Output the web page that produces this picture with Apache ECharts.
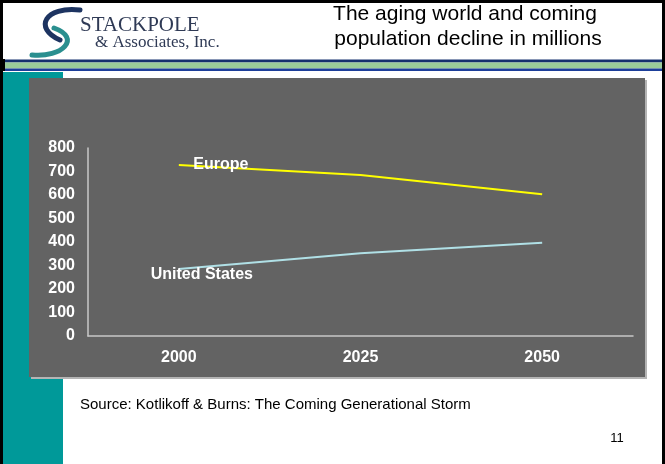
<!DOCTYPE html>
<html>
<head>
<meta charset="utf-8">
<script src="https://cdn.jsdelivr.net/npm/echarts@6/dist/echarts.min.js"></script>
<style>
html,body{margin:0;padding:0;background:#fff;}
#c{width:665px;height:464px;}
</style>
</head>
<body>
<div id="c"></div>
<script>
var categories = ['2000', '2025', '2050'];
var europe = [728, 685, 603];
var unitedStates = [285, 352, 397];
var yTicks = { min: 0, max: 800, interval: 100 };
var titleLines = ['The aging world and coming', 'population decline in millions'];
var sourceText = 'Source: Kotlikoff & Burns: The Coming Generational Storm';
var pageNumber = '11';

var chart = echarts.init(document.getElementById('c'), null, { renderer: 'canvas' });

function lbl(text, offset) {
  return {
    show: true, position: 'inside', offset: offset,
    formatter: text, color: '#ffffff',
    fontFamily: 'Arial, "Liberation Sans", sans-serif',
    fontWeight: 'bold', fontSize: 16
  };
}

var option = {
  animation: false,
  backgroundColor: '#ffffff',
  graphic: [
    { type: 'rect', z: -10, shape: { x: 3, y: 72, width: 60, height: 392 }, style: { fill: '#009999' } },
    { type: 'rect', z: -9, shape: { x: 31, y: 80, width: 616, height: 299 }, style: { fill: '#b4b4b4' } },
    { type: 'rect', z: -8, shape: { x: 29, y: 78, width: 616, height: 299 }, style: { fill: '#636363' } },
    { type: 'rect', z: -7, shape: { x: 0, y: 59.5, width: 665, height: 3 }, style: { fill: '#14306e' } },
    { type: 'rect', z: -7, shape: { x: 0, y: 62.5, width: 665, height: 6 }, style: { fill: '#99cc99' } },
    { type: 'rect', z: -7, shape: { x: 0, y: 68.5, width: 665, height: 2.5 }, style: { fill: '#1d3f9a' } },
    { type: 'rect', z: -6, shape: { x: 0, y: 0, width: 665, height: 3 }, style: { fill: '#000' } },
    { type: 'rect', z: -6, shape: { x: 0, y: 0, width: 3, height: 464 }, style: { fill: '#000' } },
    { type: 'rect', z: -6, shape: { x: 0, y: 59, width: 5, height: 12 }, style: { fill: '#000' } },
    { type: 'rect', z: -6, shape: { x: 662, y: 0, width: 3, height: 464 }, style: { fill: '#000' } },
    { type: 'bezierCurve', z: -5, shape: { x1: 80, y1: 10, x2: 60, y2: 40, cpx1: 45, cpy1: 6, cpx2: 33, cpy2: 28 }, style: { stroke: '#1d3461', lineWidth: 5, lineCap: 'round', fill: null } },
    { type: 'bezierCurve', z: -5, shape: { x1: 32, y1: 55, x2: 54, y2: 28, cpx1: 62, cpy1: 58, cpx2: 82, cpy2: 38 }, style: { stroke: '#2a8f8f', lineWidth: 5, lineCap: 'round', fill: null } },
    { type: 'text', z: -5, style: { x: 80, y: 25, text: 'STACKPOLE', fill: '#2f3a55', font: '21px "Liberation Serif", "Times New Roman", serif', textVerticalAlign: 'middle' } },
    { type: 'text', z: -5, style: { x: 95, y: 43, text: '& Associates, Inc.', fill: '#2f3a55', font: '17px "Liberation Serif", "Times New Roman", serif', textVerticalAlign: 'middle' } },
    { type: 'text', z: 5, style: { x: 465, y: 14, text: titleLines[0], fill: '#000', font: '21px "Liberation Sans", Arial, sans-serif', textAlign: 'center', textVerticalAlign: 'middle' } },
    { type: 'text', z: 5, style: { x: 468, y: 39, text: titleLines[1], fill: '#000', font: '21px "Liberation Sans", Arial, sans-serif', textAlign: 'center', textVerticalAlign: 'middle' } },
    { type: 'text', z: 5, style: { x: 80, y: 405, text: sourceText, fill: '#000', font: '15px "Liberation Sans", Arial, sans-serif', textVerticalAlign: 'middle' } },
    { type: 'text', z: 5, style: { x: 617, y: 438, text: pageNumber, fill: '#000', font: '13px "Liberation Sans", Arial, sans-serif', textAlign: 'center', textVerticalAlign: 'middle' } }
  ],
  grid: { left: 88, right: 32, top: 148, bottom: 128, containLabel: false },
  xAxis: {
    type: 'category', data: categories, boundaryGap: true,
    axisLine: { show: true, lineStyle: { color: '#c8c8c8', width: 1.5 } },
    axisTick: { show: false },
    axisLabel: { color: '#ffffff', fontWeight: 'bold', fontSize: 16, margin: 14, fontFamily: 'Arial, "Liberation Sans", sans-serif' },
    splitLine: { show: false }
  },
  yAxis: {
    type: 'value', min: yTicks.min, max: yTicks.max, interval: yTicks.interval,
    axisLine: { show: true, lineStyle: { color: '#c8c8c8', width: 1.5 } },
    axisTick: { show: false },
    axisLabel: { color: '#ffffff', fontWeight: 'bold', fontSize: 16, margin: 13, fontFamily: 'Arial, "Liberation Sans", sans-serif' },
    splitLine: { show: false }
  },
  series: [
    {
      name: 'Europe', type: 'line',
      data: europe.map(function (v, i) {
        return i === 0 ? { value: v, label: lbl('Europe', [42, 0]) } : v;
      }),
      symbol: 'circle', symbolSize: 1, showSymbol: true,
      itemStyle: { color: 'rgba(0,0,0,0)' },
      lineStyle: { color: '#ffff00', width: 2 },
      label: { show: false }
    },
    {
      name: 'United States', type: 'line',
      data: unitedStates.map(function (v, i) {
        return i === 0 ? { value: v, label: lbl('United States', [23, 6]) } : v;
      }),
      symbol: 'circle', symbolSize: 1, showSymbol: true,
      itemStyle: { color: 'rgba(0,0,0,0)' },
      lineStyle: { color: '#b0e0e6', width: 2 },
      label: { show: false }
    }
  ]
};
chart.setOption(option);
</script>
</body>
</html>
